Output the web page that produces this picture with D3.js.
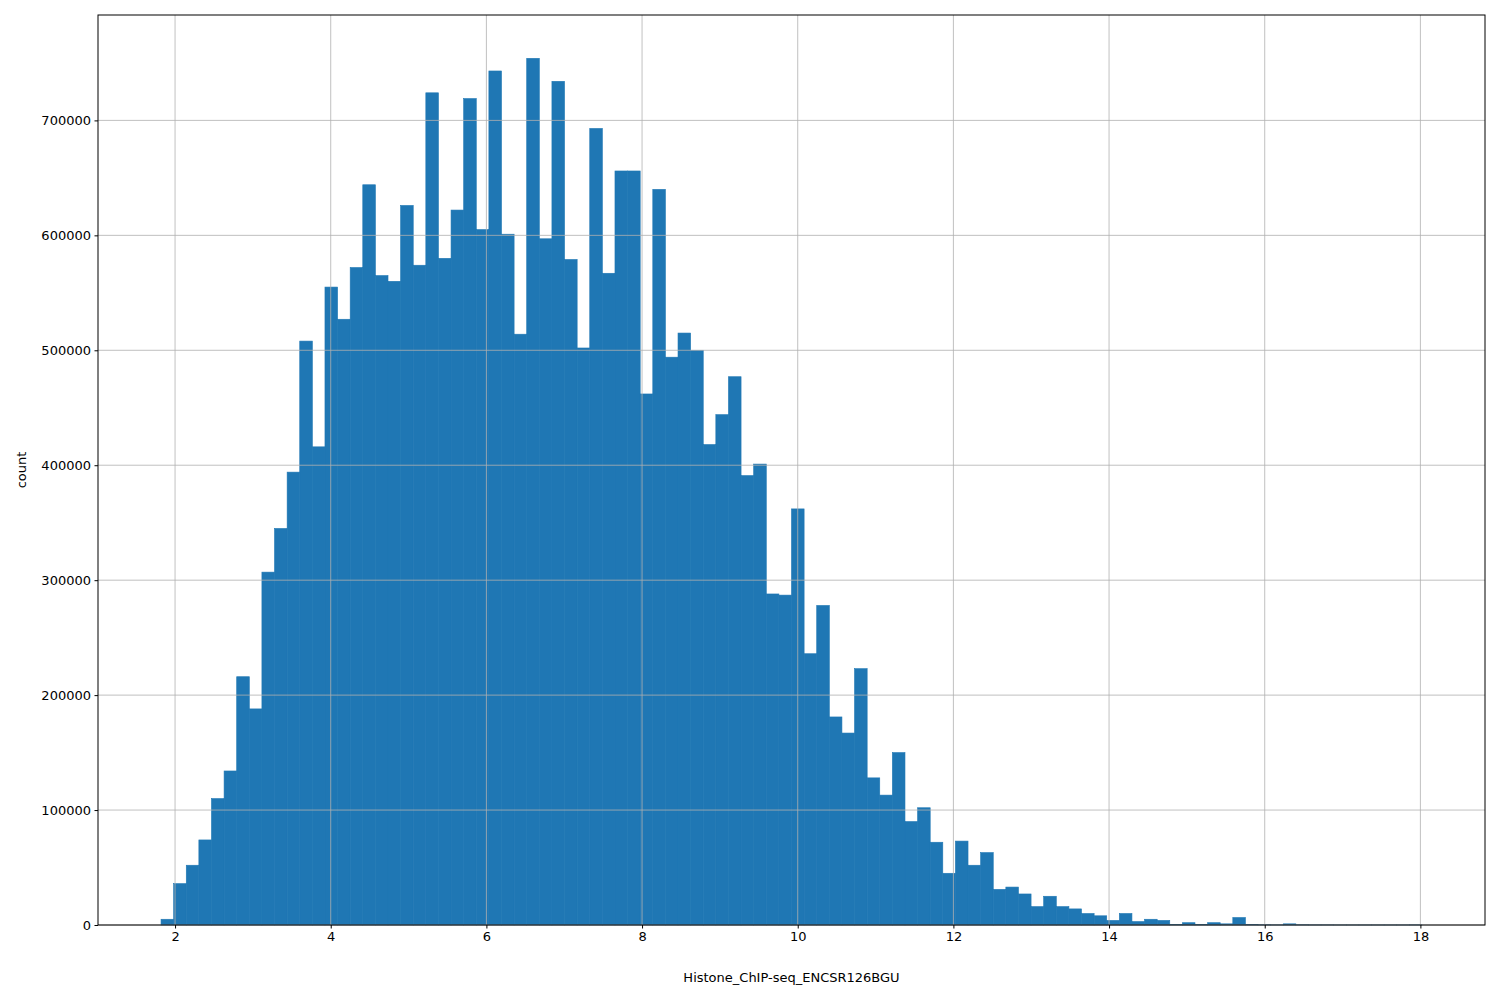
<!DOCTYPE html>
<html><head><meta charset="utf-8">
<script src="https://cdn.jsdelivr.net/npm/d3@7"></script>
<style>body{margin:0;background:#fff}text{font-family:"DejaVu Sans",sans-serif}</style>
</head><body><svg id="c" width="1500" height="1000"></svg>
<script>
const binStart = 1.82, binEnd = 18.02;
const counts = [5000,36000,52000,74000,110000,134000,216000,188000,307000,345000,
394000,508000,416000,555000,527000,572000,644000,565000,560000,626000,
574000,724000,580000,622000,719000,605000,743000,601000,514000,754000,
597000,734000,579000,502000,693000,567000,656000,656000,462000,640000,
494000,515000,500000,418000,444000,477000,391000,401000,288000,287000,
362000,236000,278000,181000,167000,223000,128000,113000,150000,90000,
102000,72000,45000,73000,52000,63000,31000,33000,27000,16000,
25000,16000,14000,10000,8000,4000,10000,3000,5000,4000,
500,2000,500,2000,1000,6500,300,200,100,1000,
200,100,100,50,50,50,50,50,50,100];
const xTicks = [2,4,6,8,10,12,14,16,18];
const yTicks = [0,100000,200000,300000,400000,500000,600000,700000];

const L=98,R=1485,T=15,B=925;
const svg=d3.select("#c");
const span=binEnd-binStart, w=span/counts.length;
const x=d3.scaleLinear().domain([binStart-0.05*span,binEnd+0.05*span]).range([L,R]);
const y=d3.scaleLinear().domain([0,d3.max(counts)*1.05]).range([B,T]);
svg.append("g").selectAll("rect").data(counts).join("rect")
 .attr("x",(d,i)=>x(binStart+i*w)).attr("width",(d,i)=>x(binStart+(i+1)*w)-x(binStart+i*w))
 .attr("y",d=>y(d)).attr("height",d=>B-y(d)).attr("fill","#1f77b4")
 .attr("stroke","#1f77b4").attr("stroke-width",0.6);
const g=svg.append("g");
g.selectAll(".gx").data(xTicks).join("line").attr("x1",d=>x(d)).attr("x2",d=>x(d)).attr("y1",T).attr("y2",B).attr("stroke","#b0b0b0").attr("stroke-width",0.8);
g.selectAll(".gy").data(yTicks).join("line").attr("x1",L).attr("x2",R).attr("y1",d=>y(d)).attr("y2",d=>y(d)).attr("stroke","#b0b0b0").attr("stroke-width",0.8);
const ax=svg.append("g").attr("transform",`translate(0,${B})`).call(d3.axisBottom(x).tickValues(xTicks).tickSize(3.5).tickPadding(3.5).tickFormat(d3.format("d")));
const ay=svg.append("g").attr("transform",`translate(${L},0)`).call(d3.axisLeft(y).tickValues(yTicks).tickSize(3.5).tickPadding(3.5).tickFormat(d3.format("d")));
[ax,ay].forEach(a=>{a.select(".domain").remove();a.selectAll("text").attr("font-size",13).attr("fill","#000").attr("font-family","DejaVu Sans");a.selectAll("line").attr("stroke","#000")});
svg.append("rect").attr("x",L).attr("y",T).attr("width",R-L).attr("height",B-T).attr("fill","none").attr("stroke","#000").attr("stroke-width",1);
svg.append("text").attr("x",(L+R)/2).attr("y",982).attr("text-anchor","middle").attr("font-size",13).text("Histone_ChIP-seq_ENCSR126BGU");
svg.append("text").attr("transform",`translate(26,${(T+B)/2}) rotate(-90)`).attr("text-anchor","middle").attr("font-size",13).text("count");
</script></body></html>
